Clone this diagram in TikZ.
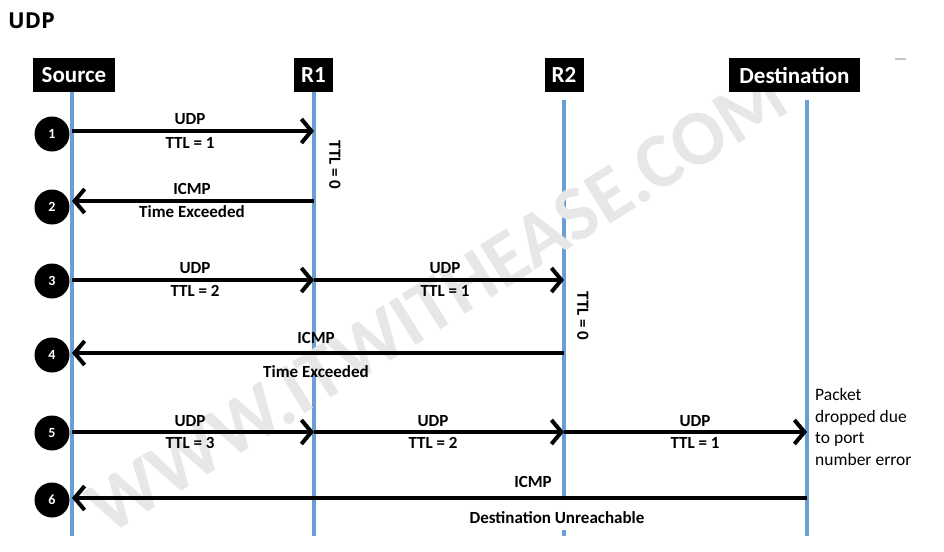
\documentclass[tikz,border=0pt]{standalone}
\usepackage{fontspec}
\setmainfont{Carlito}
\newfontfamily\titlefont{Open Sans}
\usetikzlibrary{arrows.meta}
\definecolor{lifeblue}{RGB}{106,158,212}
\definecolor{wmgray}{RGB}{231,231,231}
\begin{document}
\begin{tikzpicture}[x=1pt,y=-1pt,
  hdr/.style={fill=black,text=white,font=\bfseries\fontsize{23}{26}\selectfont,minimum height=34pt,inner sep=0pt},
  lifeline/.style={draw=lifeblue,line width=4pt},
  stepnum/.style={circle,fill=black,text=white,minimum size=35pt,inner sep=0pt,font=\bfseries\fontsize{14}{16}\selectfont},
  msg/.style={draw=black,line width=4pt,-{Straight Barb[length=10pt,width=24pt,line width=4pt]}},
  lbl/.style={font=\bfseries\fontsize{17}{19}\selectfont,inner sep=0pt},
  vlbl/.style={lbl,rotate=-90},
  note/.style={font=\fontsize{17.5}{21.5}\selectfont,align=left,inner sep=0pt},
]
\useasboundingbox (0,0) rectangle (944,551);

% lifelines
\coordinate (sT) at (72,92);   \coordinate (sB) at (72,536);
\coordinate (aT) at (314,92);  \coordinate (aB) at (314,536);
\coordinate (bT) at (564,100); \coordinate (bB) at (564,498);
\coordinate (bD1) at (564,530); \coordinate (bD2) at (564,536);
\coordinate (dT) at (807,100); \coordinate (dB) at (807,536);
\draw[lifeline] (sT) -- (sB);
\draw[lifeline] (aT) -- (aB);
\draw[lifeline] (bT) -- (bB);
\draw[lifeline] (bD1) -- (bD2);
\draw[lifeline] (dT) -- (dB);

% watermark
\node[rotate=32,text=wmgray,font=\bfseries\fontsize{78}{82}\selectfont,inner sep=0pt] (wm) at (437,302) {WWW.ITWITHEASE.COM};

% title
\node[font=\titlefont\bfseries\fontsize{22}{24}\selectfont,anchor=west,inner sep=0pt] (title) at (8,21) {UDP};

% headers
\node[hdr,minimum width=82pt] (src) at (74,75) {Source};
\node[hdr,minimum width=39pt] (r1) at (313.5,75) {R1};
\node[hdr,minimum width=39pt] (r2) at (564,75) {R2};
\node[hdr,minimum width=131pt] (dst) at (794.5,75) {Destination};

% stray mark top right
\coordinate (mk1) at (895,59);
\coordinate (mk2) at (906,59);
\draw[gray!45,line width=1.5pt] (mk1) -- (mk2);

% step numbers
\node[stepnum] (n1) at (52,134) {1};
\node[stepnum] (n2) at (52,207) {2};
\node[stepnum] (n3) at (52,281) {3};
\node[stepnum] (n4) at (52,355) {4};
\node[stepnum] (n5) at (52,433) {5};
\node[stepnum] (n6) at (52,500) {6};

% message points
\coordinate (s1) at (72,131);  \coordinate (a1) at (314,131);
\coordinate (s2) at (72,201);  \coordinate (a2) at (314,201);
\coordinate (s3) at (72,280);  \coordinate (a3) at (314,280); \coordinate (b3) at (564,280);
\coordinate (s4) at (72,353);  \coordinate (b4) at (564,353);
\coordinate (s5) at (72,432);  \coordinate (a5) at (314,432); \coordinate (b5) at (564,432); \coordinate (d5) at (807,432);
\coordinate (s6) at (72,498);  \coordinate (d6) at (807,498);

% messages
\draw[msg] (s1) -- (a1);
\draw[msg] (a2) -- (s2);
\draw[msg] (s3) -- (a3);
\draw[msg] (a3) -- (b3);
\draw[msg] (b4) -- (s4);
\draw[msg] (s5) -- (a5);
\draw[msg] (a5) -- (b5);
\draw[msg] (b5) -- (d5);
\draw[msg] (d6) -- (s6);

% labels
\node[lbl] (l1a) at (190,119) {UDP};
\node[lbl] (l1b) at (190,143) {TTL = 1};
\node[vlbl] (ttl0a) at (335,165) {TTL = 0};
\node[lbl] (l2a) at (192,189) {ICMP};
\node[lbl] (l2b) at (192,212) {Time Exceeded};
\node[lbl] (l3a) at (195,268) {UDP};
\node[lbl] (l3b) at (195,291) {TTL = 2};
\node[lbl] (l3c) at (445,268) {UDP};
\node[lbl] (l3d) at (445,291) {TTL = 1};
\node[vlbl] (ttl0b) at (583,316) {TTL = 0};
\node[lbl] (l4a) at (316,338) {ICMP};
\node[lbl] (l4b) at (316,372) {Time Exceeded};
\node[lbl] (l5a) at (190,421) {UDP};
\node[lbl] (l5b) at (190,443) {TTL = 3};
\node[lbl] (l5c) at (433,421) {UDP};
\node[lbl] (l5d) at (433,443) {TTL = 2};
\node[lbl] (l5e) at (695,421) {UDP};
\node[lbl] (l5f) at (695,443) {TTL = 1};
\node[lbl] (l6a) at (533,482) {ICMP};
\node[lbl] (l6b) at (557,518) {Destination Unreachable};
\node[note,anchor=west] (drop) at (815,427) {Packet\\dropped due\\to port\\number error};
\end{tikzpicture}
\end{document}
